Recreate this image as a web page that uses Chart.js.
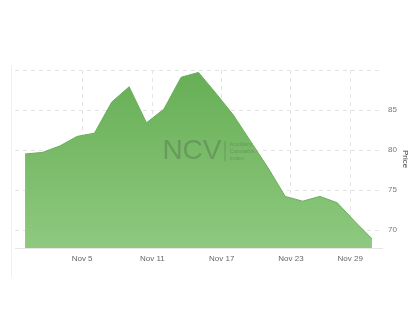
<!DOCTYPE html>
<html>
<head>
<meta charset="utf-8">
<script src="https://cdn.jsdelivr.net/npm/chart.js@4/dist/chart.umd.min.js"></script>
<style>
    html, body { margin: 0; padding: 0; background: #fff; }
    #wrap { position: relative; width: 420px; height: 322px; }
    #frame { position: absolute; left: 11px; top: 65px; height: 212px; border-left: 1px solid #f0f0f0; }
</style>
</head>
<body>
<div id="wrap">
    <div id="frame"></div>
    <canvas id="priceChart" width="420" height="322"></canvas>
</div>
<script>
// Price series, one value per trading point
const prices = [79.5, 79.7, 80.5, 81.7, 82.1, 86.0, 87.9, 83.4, 85.1, 89.1, 89.7,
                87.1, 84.4, 81.1, 77.8, 74.2, 73.6, 74.2, 73.4, 71.1, 68.9];

// Date labels and where they fall along the series (in points)
const xTickLabels = ['Nov 5', 'Nov 11', 'Nov 17', 'Nov 23', 'Nov 29'];
const xTickAt = [3.29, 7.34, 11.34, 15.33, 18.75];

// Price axis ticks
const yTicks = [70, 75, 80, 85, 90];
const yMin = 67.75;
const yMax = 90;

const points = prices.map((p, i) => ({ x: i, y: p }));

// Watermark drawn over the fill
const watermark = {
    id: 'watermark',
    afterDatasetsDraw(chart) {
        const { ctx, chartArea } = chart;
        const cx = (chartArea.left + chartArea.right) / 2 - 3;
        const cy = (chartArea.top + chartArea.bottom) / 2 - 8;
        ctx.save();
        ctx.fillStyle = 'rgba(70, 90, 70, 0.33)';
        ctx.font = '28px "Liberation Sans", Arial, sans-serif';
        ctx.textAlign = 'right';
        ctx.textBaseline = 'middle';
        ctx.fillText('NCV', cx + 26, cy);
        ctx.fillRect(cx + 29, cy - 10, 1, 20);
        ctx.font = '6px "Liberation Sans", Arial, sans-serif';
        ctx.textAlign = 'left';
        ctx.fillText('Ancillary', cx + 34, cy - 7);
        ctx.fillText('Cannabis', cx + 34, cy);
        ctx.fillText('Index', cx + 34, cy + 7);
        ctx.restore();
    }
};

function greenFill(context) {
    const area = context.chart.chartArea;
    if (!area) return '#7bbd6b';
    const g = context.chart.ctx.createLinearGradient(0, area.top, 0, area.bottom);
    g.addColorStop(0, '#66ae55');
    g.addColorStop(1, '#8ec97f');
    return g;
}

new Chart(document.getElementById('priceChart'), {
    type: 'line',
    data: {
        datasets: [{
            label: 'Price',
            data: points,
            fill: 'start',
            backgroundColor: greenFill,
            borderColor: '#68ae58',
            borderWidth: 1,
            pointRadius: 0,
            tension: 0
        }]
    },
    options: {
        responsive: false,
        animation: false,
        layout: { padding: { left: 15, top: 70, right: 0, bottom: 0 } },
        plugins: {
            legend: { display: false },
            tooltip: { enabled: false }
        },
        scales: {
            x: {
                type: 'linear',
                min: -0.58,
                max: 20.58,
                afterBuildTicks: s => { s.ticks = xTickAt.map(v => ({ value: v })); },
                afterFit: s => { s.height = 74; },
                grid: {
                    color: '#e4e4e4',
                    drawTicks: false
                },
                border: { display: true, color: '#e6e6e6', dash: [4, 4] },
                ticks: {
                    padding: 6,
                    autoSkip: false,
                    maxRotation: 0,
                    color: '#666',
                    font: { family: '"Liberation Sans", Arial, sans-serif', size: 8 },
                    callback: (v, i) => xTickLabels[i]
                }
            },
            y: {
                position: 'right',
                min: yMin,
                max: yMax,
                afterBuildTicks: s => { s.ticks = yTicks.map(v => ({ value: v })); },
                afterFit: s => { s.width = 38; },
                grid: {
                    color: '#e4e4e4',
                    drawTicks: false
                },
                border: { display: false, dash: [4, 4] },
                ticks: {
                    padding: 6,
                    color: '#777',
                    font: { family: '"Liberation Sans", Arial, sans-serif', size: 8 },
                    callback: v => (v >= yMax ? '' : v)
                },
                title: {
                    display: true,
                    text: 'Price',
                    color: '#444',
                    padding: { top: 10, bottom: 0 },
                    font: { family: '"Liberation Sans", Arial, sans-serif', size: 8 }
                }
            }
        }
    },
    plugins: [watermark]
});
</script>
</body>
</html>
